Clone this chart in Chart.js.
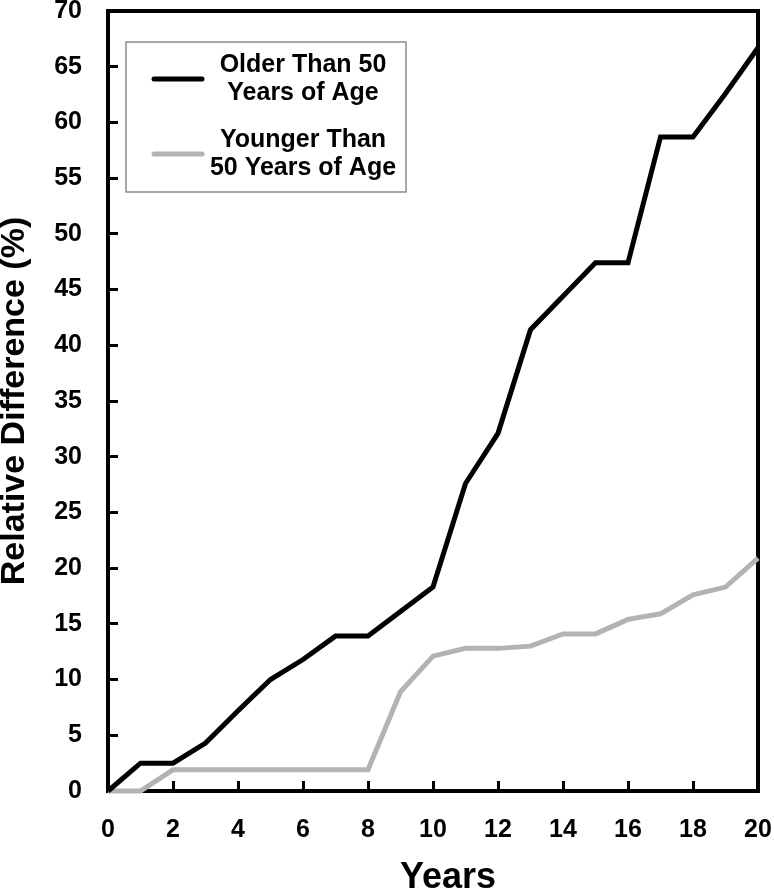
<!DOCTYPE html>
<html>
<head>
<meta charset="utf-8">
<script src="https://cdn.jsdelivr.net/npm/chart.js@4.4.1/dist/chart.umd.min.js"></script>
<style>
  html, body { margin: 0; padding: 0; background: #fff; }
  #wrap { width: 774px; height: 892px; }
</style>
</head>
<body>
<div id="wrap"><canvas id="line-chartcanvas" width="774" height="892"></canvas></div>
<script>
// values
var years = [0, 1, 2, 3, 4, 5, 6, 7, 8, 9, 10, 11, 12, 13, 14, 15, 16, 17, 18, 19, 20];
var olderThan50 = [0, 2.5, 2.5, 4.3, 7.2, 10.0, 11.8, 13.9, 13.9, 16.1, 18.3, 27.6, 32.1, 41.4, 44.4, 47.4, 47.4, 58.7, 58.7, 62.6, 66.7];
var youngerThan50 = [0, 0, 1.9, 1.9, 1.9, 1.9, 1.9, 1.9, 1.9, 8.9, 12.1, 12.8, 12.8, 13.0, 14.1, 14.1, 15.4, 15.9, 17.6, 18.3, 20.9];
var seriesNames = ["Older Than 50 Years of Age", "Younger Than 50 Years of Age"];
var legendLines = [["Older Than 50", "Years of Age"], ["Younger Than", "50 Years of Age"]];
var xTitle = "Years";
var yTitle = "Relative Difference (%)";

var FONT = "'Liberation Sans', Arial, sans-serif";

function toPoints(ys) {
	var pts = [];
	for (var i = 0; i < years.length; i++) {
		pts.push({ x: years[i], y: ys[i] });
	}
	return pts;
}

// box round the plot, x title and the boxed legend
var framePlugin = {
	id: "plotFrame",
	beforeDatasetsDraw: function(chart) {
		var c = chart.ctx, a = chart.chartArea;
		c.save();
		c.strokeStyle = "#000";
		c.lineWidth = 4;
		c.lineJoin = "miter";
		c.strokeRect(a.left, a.top, a.right - a.left, a.bottom - a.top);
		c.restore();
	},
	afterDraw: function(chart) {
		var c = chart.ctx, a = chart.chartArea;
		c.save();
		// x axis title
		c.fillStyle = "#000";
		c.font = "bold 36px " + FONT;
		c.textAlign = "center";
		c.textBaseline = "alphabetic";
		c.fillText(xTitle, (a.left + a.right) / 2 + 15, 888);

		// legend box
		var bx = a.left + 18, by = a.top + 31, bw = 280, bh = 150;
		c.fillStyle = "#fff";
		c.fillRect(bx, by, bw, bh);
		c.strokeStyle = "#8c8c8c";
		c.lineWidth = 1.5;
		c.strokeRect(bx, by, bw, bh);
		var sampleY = [by + 37, by + 112];
		chart.data.datasets.forEach(function(ds, j) {
			c.strokeStyle = ds.borderColor;
			c.lineWidth = 5;
			c.lineCap = "round";
			c.beginPath();
			c.moveTo(bx + 28, sampleY[j]);
			c.lineTo(bx + 76, sampleY[j]);
			c.stroke();
			c.fillStyle = "#000";
			c.font = "bold 25px " + FONT;
			c.textAlign = "center";
			c.textBaseline = "middle";
			var lines = legendLines[j];
			for (var k = 0; k < lines.length; k++) {
				c.fillText(lines[k], bx + 177, sampleY[j] - 14 + k * 28);
			}
		});
		c.restore();
	}
};

var ctx = document.getElementById("line-chartcanvas");

var data = {
	datasets : [
		{
			label : seriesNames[0],
			data : toPoints(olderThan50),
			borderColor : "#000000",
			backgroundColor : "#000000",
			borderWidth : 5,
			fill : false,
			tension : 0,
			pointRadius : 0,
			clip : 8
		},
		{
			label : seriesNames[1],
			data : toPoints(youngerThan50),
			borderColor : "#b3b3b3",
			backgroundColor : "#b3b3b3",
			borderWidth : 5,
			fill : false,
			tension : 0,
			pointRadius : 0,
			clip : 8
		}
	]
};

// tick marks pointing into the plot (negative tick length)
var inwardTicks = {
	display : true,
	drawOnChartArea : false,
	drawTicks : true,
	tickLength : -10,
	color : "#000",
	lineWidth : 3
};

var options = {
	responsive : false,
	animation : false,
	layout : { padding : { top : 11, right : 16, left : 0, bottom : 0 } },
	plugins : {
		legend : { display : false },
		tooltip : { enabled : false }
	},
	scales : {
		x : {
			type : "linear",
			min : 0,
			max : 20,
			border : { display : false },
			grid : inwardTicks,
			ticks : {
				stepSize : 2,
				padding : 34,
				color : "#000",
				font : { family : FONT, size : 25, weight : "bold" }
			},
			afterFit : function(s) {
				s.height = 101;
				s.paddingLeft = 0;
				s.paddingRight = 0;
			}
		},
		y : {
			min : 0,
			max : 70,
			border : { display : false },
			grid : inwardTicks,
			ticks : {
				stepSize : 5,
				padding : 36,
				color : "#000",
				font : { family : FONT, size : 25, weight : "bold", lineHeight : 0.9 }
			},
			title : {
				display : true,
				text : yTitle,
				color : "#000",
				padding : 0,
				font : { family : FONT, size : 34, weight : "bold", lineHeight : 0.85 }
			},
			afterFit : function(s) {
				s.width = 108;
				s.paddingTop = 0;
				s.paddingBottom = 0;
			}
		}
	}
};

var chart = new Chart(ctx, {
	type : "line",
	data : data,
	options : options,
	plugins : [framePlugin]
});
</script>
</body>
</html>
